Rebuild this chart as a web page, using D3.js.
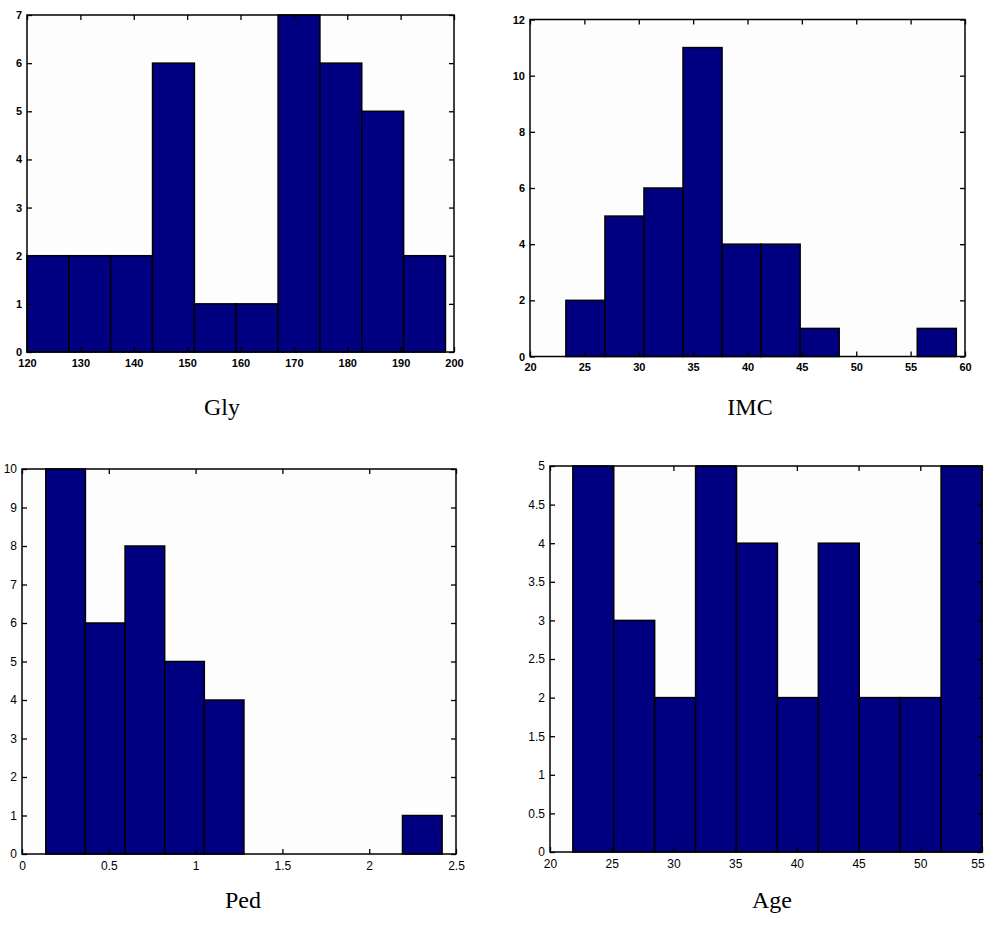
<!DOCTYPE html>
<html>
<head>
<meta charset="utf-8">
<script src="https://cdn.jsdelivr.net/npm/d3@7"></script>
<style>
  html, body { margin: 0; padding: 0; background: #ffffff; }
  svg { display: block; }
  .tick text { font-family: "Liberation Sans", Arial, sans-serif; }
</style>
</head>
<body>
<svg id="chart" width="986" height="930"></svg>
<script>
// Histogram counts (10 bins each) and the data span the bins cover
const glyCounts = [2, 2, 2, 6, 1, 1, 7, 6, 5, 2];
const glyBinRange = [120, 198.4];
const glyXTicks = [120, 130, 140, 150, 160, 170, 180, 190, 200];
const glyYTicks = [0, 1, 2, 3, 4, 5, 6, 7];

const imcCounts = [2, 5, 6, 11, 4, 4, 1, 0, 0, 1];
const imcBinRange = [23.3, 59.2];
const imcXTicks = [20, 25, 30, 35, 40, 45, 50, 55, 60];
const imcYTicks = [0, 2, 4, 6, 8, 10, 12];

const pedCounts = [10, 6, 8, 5, 4, 0, 0, 0, 0, 1];
const pedBinRange = [0.137, 2.42];
const pedXTicks = [0, 0.5, 1, 1.5, 2, 2.5];
const pedYTicks = [0, 1, 2, 3, 4, 5, 6, 7, 8, 9, 10];

const ageCounts = [5, 3, 2, 5, 4, 2, 4, 2, 2, 5];
const ageBinRange = [21.85, 55];
const ageXTicks = [20, 25, 30, 35, 40, 45, 50, 55];
const ageYTicks = [0, 0.5, 1, 1.5, 2, 2.5, 3, 3.5, 4, 4.5, 5];

const panelNames = ["Gly", "IMC", "Ped", "Age"];

// Panel layout (pixel boxes) and styling
const panels = [
  { name: panelNames[0], counts: glyCounts, range: glyBinRange, xTicks: glyXTicks, yTicks: glyYTicks,
    box: { l: 27, r: 454, t: 15, b: 352 }, label: { x: 222, y: 415 }, bold: true, fs: 11 },
  { name: panelNames[1], counts: imcCounts, range: imcBinRange, xTicks: imcXTicks, yTicks: imcYTicks,
    box: { l: 530, r: 965, t: 19.5, b: 356.5 }, label: { x: 750, y: 415 }, bold: true, fs: 11 },
  { name: panelNames[2], counts: pedCounts, range: pedBinRange, xTicks: pedXTicks, yTicks: pedYTicks,
    box: { l: 22, r: 456, t: 469, b: 854 }, label: { x: 243, y: 908 }, bold: false, fs: 12 },
  { name: panelNames[3], counts: ageCounts, range: ageBinRange, xTicks: ageXTicks, yTicks: ageYTicks,
    box: { l: 550, r: 982, t: 466, b: 852 }, label: { x: 772, y: 908 }, bold: false, fs: 12 }
];

const svg = d3.select("#chart");
const barFill = "#000080";
const pageWidth = 986;

panels.forEach(p => {
  const xDomain = [p.xTicks[0], p.xTicks[p.xTicks.length - 1]];
  const yDomain = [p.yTicks[0], p.yTicks[p.yTicks.length - 1]];
  const x = d3.scaleLinear().domain(xDomain).range([p.box.l, p.box.r]);
  const y = d3.scaleLinear().domain(yDomain).range([p.box.b, p.box.t]);

  const g = svg.append("g");

  // Equal-width bins between the range ends
  const n = p.counts.length;
  const w = (p.range[1] - p.range[0]) / n;
  const bins = p.counts.map((c, i) => ({ x0: p.range[0] + i * w, x1: p.range[0] + (i + 1) * w, c }));

  g.append("rect")
    .attr("x", p.box.l).attr("y", p.box.t)
    .attr("width", p.box.r - p.box.l).attr("height", p.box.b - p.box.t)
    .attr("fill", "#fdfdfd");

  g.selectAll("rect.bar")
    .data(bins.filter(d => d.c > 0))
    .join("rect")
    .attr("class", "bar")
    .attr("x", d => x(d.x0))
    .attr("y", d => y(d.c))
    .attr("width", d => x(d.x1) - x(d.x0))
    .attr("height", d => y(0) - y(d.c))
    .attr("fill", barFill)
    .attr("stroke", "#000")
    .attr("stroke-width", 1.5);

  const fmt = d => String(d);
  const fontWeight = p.bold ? "bold" : "normal";

  const bottom = g.append("g").attr("transform", `translate(0,${p.box.b})`)
    .call(d3.axisBottom(x).tickValues(p.xTicks).tickFormat(fmt).tickSizeInner(-5).tickSizeOuter(0).tickPadding(7));
  const left = g.append("g").attr("transform", `translate(${p.box.l},0)`)
    .call(d3.axisLeft(y).tickValues(p.yTicks).tickFormat(fmt).tickSizeInner(-5).tickSizeOuter(0).tickPadding(5));
  const top = g.append("g").attr("transform", `translate(0,${p.box.t})`)
    .call(d3.axisTop(x).tickValues(p.xTicks).tickFormat("").tickSizeInner(-5).tickSizeOuter(0));
  const right = g.append("g").attr("transform", `translate(${p.box.r},0)`)
    .call(d3.axisRight(y).tickValues(p.yTicks).tickFormat("").tickSizeInner(-5).tickSizeOuter(0));

  [bottom, left, top, right].forEach(a => {
    a.select(".domain").remove();
    a.selectAll(".tick line").attr("stroke", "#000").attr("stroke-width", 1.3);
    a.selectAll(".tick text")
      .attr("fill", "#000")
      .style("font-size", p.fs + "px")
      .style("font-weight", fontWeight);
  });

  // Keep a last x label that would run past the page edge inside it
  bottom.selectAll(".tick text").each(function () {
    const bb = this.getBBox();
    const tx = +this.parentNode.getAttribute("transform").match(/translate\(([-\d.]+)/)[1];
    const over = tx + bb.x + bb.width - (pageWidth - 1);
    if (over > 0) d3.select(this).attr("x", -over);
  });

  // Axes frame
  g.append("rect")
    .attr("x", p.box.l).attr("y", p.box.t)
    .attr("width", p.box.r - p.box.l).attr("height", p.box.b - p.box.t)
    .attr("fill", "none").attr("stroke", "#000").attr("stroke-width", 1.5);

  // Variable name under the panel
  svg.append("text")
    .attr("x", p.label.x).attr("y", p.label.y)
    .attr("text-anchor", "middle")
    .style("font-family", "'Liberation Serif', 'Times New Roman', serif")
    .style("font-size", "24px")
    .attr("fill", "#000")
    .text(p.name);
});
</script>
</body>
</html>
